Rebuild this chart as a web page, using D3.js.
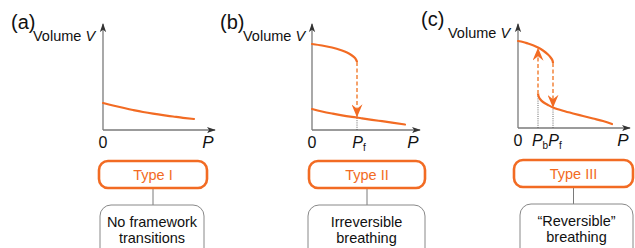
<!DOCTYPE html>
<html>
<head>
<meta charset="utf-8">
<script src="https://cdn.jsdelivr.net/npm/d3@7"></script>
<style>
  body { margin: 0; background: #fff; }
  text { font-family: "Liberation Sans", Arial, sans-serif; }
</style>
</head>
<body>
<svg id="chart" width="635" height="248"></svg>
<script>
// panel labels and the classification text
var Panels_ = ["(a)", "(b)", "(c)"];
var Types_ = ["Type I", "Type II", "Type III"];
var Notes_ = [["No framework", "transitions"],
              ["Irreversible", "breathing"],
              ["\u201cReversible\u201d", "breathing"]];

// curves, [P, V] in arbitrary units (0..10)
var CurveA = [[0, 2.7], [1, 2.45], [2, 2.22], [3, 2.0], [4, 1.8], [5, 1.63],
              [6, 1.48], [7, 1.35], [8, 1.22], [9.1, 1.1]];
var UpperB = [[0, 8.6], [1, 8.45], [2, 8.25], [3, 7.95], [3.5, 7.75], [4, 7.45],
              [4.3, 7.2], [4.45, 6.95], [4.5, 6.8]];
var LowerB = [[0, 2.1], [1, 1.85], [2, 1.65], [3, 1.47], [4, 1.32], [4.5, 1.25],
              [5, 1.17], [6, 1.02], [7, 0.88], [8, 0.74], [9.3, 0.55]];
var UpperC = [[0, 8.7], [0.5, 8.6], [1, 8.45], [1.5, 8.28], [2, 8.05], [2.5, 7.75],
              [3, 7.35], [3.3, 7.0], [3.45, 6.75], [3.5, 6.5]];
var LowerC = [[2.0, 3.5], [2.05, 3.2], [2.2, 2.9], [2.5, 2.6], [3, 2.3], [3.5, 2.05],
              [4.5, 1.72], [5.5, 1.45], [6.5, 1.2], [7.5, 0.95], [8.5, 0.7], [9.4, 0.4]];

// jumps: [P, Vfrom, Vto]
var JumpsB = [[4.5, 6.8, 1.4]];
var JumpsC = [[2.0, 3.4, 7.9], [3.5, 6.5, 2.15]];

// tick labels under the P axis: [P, main, subscript]
var TicksA = [[0, "0", ""]];
var TicksB = [[0, "0", ""], [4.5, "P", "f"]];
var TicksC = [[0, "0", ""], [2.0, "P", "b"], [3.5, "P", "f"]];

var ORANGE = "#f26b23", LIGHT = "#f5a26b", GREY = "#7a7a7a";

var svg = d3.select("#chart");
var defs = svg.append("defs");
defs.append("marker").attr("id", "axhead")
  .attr("viewBox", "0 0 10 10").attr("refX", 9).attr("refY", 5)
  .attr("markerWidth", 9).attr("markerHeight", 9)
  .attr("markerUnits", "userSpaceOnUse").attr("orient", "auto")
  .append("path").attr("d", "M0,1.5 L10,5 L0,8.5 L2.5,5 Z").attr("fill", "#333");
defs.append("marker").attr("id", "jhead")
  .attr("viewBox", "0 0 10 10").attr("refX", 9).attr("refY", 5)
  .attr("markerWidth", 13).attr("markerHeight", 11)
  .attr("markerUnits", "userSpaceOnUse").attr("orient", "auto")
  .attr("preserveAspectRatio", "none")
  .append("path").attr("d", "M0,0 L10,5 L0,10 L3.5,5 Z").attr("fill", ORANGE);

var Layout_ = [
  {ox: 103, oy: 130, axX: 112, axY: 106, lab: [11, 29], vol: [33, 41], box: [99, 161, 108], note: [100, 205, 104],
   curves: [CurveA], jumps: [], ticks: TicksA},
  {ox: 312, oy: 130, axX: 108, axY: 106, lab: [220, 29], vol: [243, 41], box: [309, 161, 116], note: [308, 205, 117],
   curves: [UpperB, LowerB], jumps: JumpsB, ticks: TicksB},
  {ox: 518, oy: 128, axX: 112, axY: 104, lab: [421, 26], vol: [448, 38], box: [514, 160, 119], note: [520, 204, 113],
   curves: [UpperC, LowerC], jumps: JumpsC, ticks: TicksC}
];

Layout_.forEach(function(L, i) {
  var g = svg.append("g").attr("class", "panel p" + i);
  var x = d3.scaleLinear().domain([0, 10]).range([L.ox, L.ox + 100]);
  var y = d3.scaleLinear().domain([0, 10]).range([L.oy, L.oy - 100]);
  var line = d3.line().x(function(d) { return x(d[0]); }).y(function(d) { return y(d[1]); })
    .curve(d3.curveMonotoneY);

  g.append("text").attr("x", L.lab[0]).attr("y", L.lab[1])
    .attr("font-size", 20).attr("fill", "#111").text(Panels_[i]);
  var vt = g.append("text").attr("x", L.vol[0]).attr("y", L.vol[1])
    .attr("font-size", 14.5).attr("fill", "#111");
  vt.append("tspan").text("Volume ");
  vt.append("tspan").attr("font-style", "italic").text("V");

  // axes
  g.append("line").attr("x1", L.ox).attr("y1", L.oy).attr("x2", L.ox).attr("y2", L.oy - L.axY)
    .attr("stroke", GREY).attr("stroke-width", 1.3).attr("marker-end", "url(#axhead)");
  g.append("line").attr("x1", L.ox).attr("y1", L.oy).attr("x2", L.ox + L.axX).attr("y2", L.oy)
    .attr("stroke", GREY).attr("stroke-width", 1.3).attr("marker-end", "url(#axhead)");

  // dotted drop lines
  g.selectAll(".drop").data(L.ticks.filter(function(t) { return t[0] > 0; }))
    .enter().append("line").attr("class", "drop")
    .attr("x1", function(d) { return x(d[0]); }).attr("x2", function(d) { return x(d[0]); })
    .attr("y1", L.oy).attr("y2", function(d) {
      var j = L.jumps.filter(function(k) { return k[0] === d[0]; })[0];
      return y(Math.min(j[1], j[2]));
    })
    .attr("stroke", "#555").attr("stroke-width", 0.9).attr("stroke-dasharray", "1,1.2");

  // curves
  g.selectAll(".curve").data(L.curves).enter().append("path").attr("class", "curve")
    .attr("d", line).attr("fill", "none").attr("stroke", ORANGE)
    .attr("stroke-width", 2.2).attr("stroke-linecap", "round");

  // jumps
  g.selectAll(".jump").data(L.jumps).enter().append("line").attr("class", "jump")
    .attr("x1", function(d) { return x(d[0]); }).attr("x2", function(d) { return x(d[0]); })
    .attr("y1", function(d) { return y(d[1]); }).attr("y2", function(d) { return y(d[2]); })
    .attr("stroke", LIGHT).attr("stroke-width", 2).attr("stroke-dasharray", "4,2.5")
    .attr("marker-end", "url(#jhead)");

  // tick labels
  var tl = g.selectAll(".tick").data(L.ticks).enter().append("text").attr("class", "tick")
    .attr("x", function(d) { return x(d[0]) + (d[2] ? 2 : 0); }).attr("y", L.oy + 18)
    .attr("text-anchor", "middle").attr("font-size", 16).attr("fill", "#111");
  tl.append("tspan").attr("font-style", function(d) { return d[2] ? "italic" : null; })
    .text(function(d) { return d[1]; });
  tl.append("tspan").attr("font-size", 10).attr("dy", 3)
    .text(function(d) { return d[2]; });
  g.append("text").attr("x", L.ox + L.axX - 7).attr("y", L.oy + 18)
    .attr("text-anchor", "middle").attr("font-size", 17).attr("font-style", "italic")
    .attr("fill", "#111").text("P");

  // classification boxes
  var bx = L.box, nb = L.note, cx = bx[0] + bx[2] / 2;
  g.append("line").attr("x1", cx).attr("x2", cx).attr("y1", bx[1] + 27).attr("y2", nb[1])
    .attr("stroke", GREY).attr("stroke-width", 1);
  g.append("rect").attr("x", bx[0]).attr("y", bx[1]).attr("width", bx[2]).attr("height", 27)
    .attr("rx", 9).attr("fill", "#fff").attr("stroke", ORANGE).attr("stroke-width", 2.6);
  g.append("text").attr("x", cx).attr("y", bx[1] + 19).attr("text-anchor", "middle")
    .attr("font-size", 14.5).attr("fill", ORANGE).text(Types_[i]);
  g.append("rect").attr("x", nb[0]).attr("y", nb[1]).attr("width", nb[2]).attr("height", 60)
    .attr("rx", 11).attr("fill", "#fff").attr("stroke", "#888").attr("stroke-width", 1);
  g.selectAll(".note").data(Notes_[i]).enter().append("text").attr("class", "note")
    .attr("x", nb[0] + nb[2] / 2).attr("y", function(d, k) { return nb[1] + 22 + k * 16; })
    .attr("text-anchor", "middle").attr("font-size", 14.5).attr("fill", "#111").text(String);
});
</script>
</body>
</html>
